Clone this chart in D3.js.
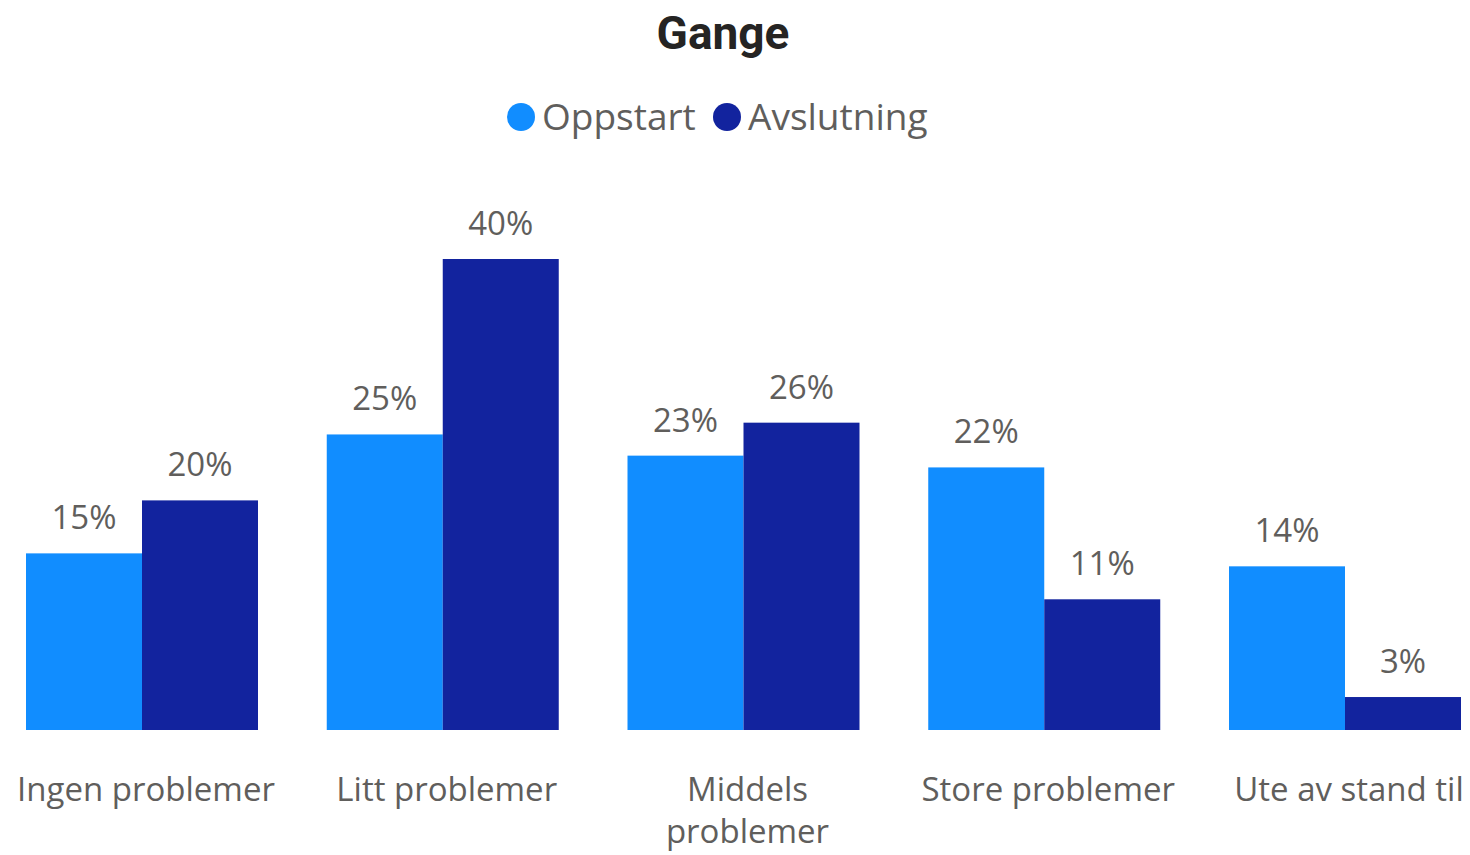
<!DOCTYPE html>
<html>
<head>
<meta charset="utf-8">
<script src="https://cdn.jsdelivr.net/npm/d3@7"></script>
<style>
  body { margin: 0; background: #fff; }
  svg { display: block; }
</style>
</head>
<body>
<div id="chart"></div>
<script>
const categories = ["Ingen problemer", "Litt problemer", "Middels problemer", "Store problemer", "Ute av stand til"];
const seriesNames = ["Oppstart", "Avslutning"];
const oppstart = [15.0, 25.1, 23.3, 22.3, 13.9];
const avslutning = [19.5, 40.0, 26.1, 11.1, 2.8];
const colors = ["#118DFF", "#12239E"];

const width = 1470, height = 855;
const baseY = 730, topY = 259;

const svg = d3.select("#chart").append("svg")
  .attr("width", width)
  .attr("height", height);

// scales
const x0 = d3.scaleBand()
  .domain(categories)
  .range([26, 1461])
  .paddingInner(0.2286)
  .paddingOuter(0);

const x1 = d3.scaleBand()
  .domain(seriesNames)
  .range([0, x0.bandwidth()]);

const y = d3.scaleLinear()
  .domain([0, 40])
  .range([baseY, topY]);

const data = categories.map((c, i) => ({
  cat: c,
  values: [
    { key: "Oppstart", v: oppstart[i] },
    { key: "Avslutning", v: avslutning[i] }
  ]
}));

const color = d3.scaleOrdinal().domain(seriesNames).range(colors);

// title
svg.append("text")
  .attr("x", 723)
  .attr("y", 49)
  .attr("text-anchor", "middle")
  .style("font-family", "Roboto, sans-serif")
  .style("font-weight", "bold")
  .style("font-size", "46px")
  .attr("fill", "#252423")
  .text("Gange");

// legend
const legendPos = [521, 727];
const legend = svg.append("g");
seriesNames.forEach((s, i) => {
  legend.append("circle")
    .attr("cx", legendPos[i])
    .attr("cy", 117)
    .attr("r", 14)
    .attr("fill", color(s));
  legend.append("text")
    .attr("x", legendPos[i] + 21)
    .attr("y", 130)
    .style("font-family", "'Open Sans', sans-serif")
    .style("font-size", "37px")
    .attr("fill", "#605E5C")
    .text(s);
});

// bars
const groups = svg.selectAll("g.grp")
  .data(data)
  .enter()
  .append("g")
  .attr("class", "grp")
  .attr("transform", d => "translate(" + x0(d.cat) + ",0)");

groups.selectAll("rect")
  .data(d => d.values)
  .enter()
  .append("rect")
  .attr("x", d => x1(d.key))
  .attr("y", d => y(d.v))
  .attr("width", x1.bandwidth())
  .attr("height", d => y(0) - y(d.v))
  .attr("fill", d => color(d.key));

groups.selectAll("text.val")
  .data(d => d.values)
  .enter()
  .append("text")
  .attr("class", "val")
  .attr("x", d => x1(d.key) + x1.bandwidth() / 2)
  .attr("y", d => y(d.v) - 24)
  .attr("text-anchor", "middle")
  .style("font-family", "'Open Sans', sans-serif")
  .style("font-size", "33px")
  .attr("fill", "#605E5C")
  .text(d => Math.round(d.v) + "%");

// category labels, wrapped when too wide
const xAxis = svg.append("g");
categories.forEach(c => {
  const cx = x0(c) + x0.bandwidth() / 2 + 4;
  const t = xAxis.append("text")
    .attr("x", cx)
    .attr("y", 801)
    .attr("text-anchor", "middle")
    .style("font-family", "'Open Sans', sans-serif")
    .style("font-size", "33px")
    .attr("fill", "#605E5C")
    .text(c);
  if (t.node().getComputedTextLength() > 268) {
    const words = c.split(" ");
    t.text(null);
    words.forEach((w, i) => {
      t.append("tspan")
        .attr("x", cx)
        .attr("dy", i === 0 ? 0 : 42)
        .text(w);
    });
  }
});
</script>
</body>
</html>
